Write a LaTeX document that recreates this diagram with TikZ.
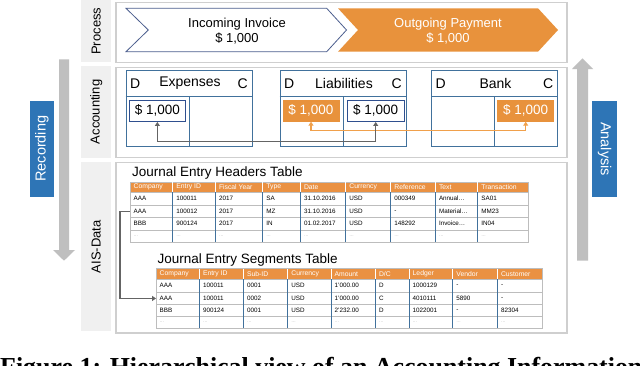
\documentclass[tikz,border=0pt]{standalone}
\usepackage{fontspec}
\setmainfont{Liberation Sans}
\newfontfamily\capfont{Liberation Serif}
\usetikzlibrary{arrows.meta}
\definecolor{orng}{HTML}{E8923C}
\definecolor{thorng}{HTML}{EA9142}
\definecolor{bluebox}{HTML}{2E75B6}
\definecolor{arrgray}{HTML}{BFBFBF}
\definecolor{lblfill}{HTML}{F0F0F0}
\definecolor{frame}{HTML}{CFCFCF}
\definecolor{tacc}{HTML}{41719C}
\definecolor{dbox}{HTML}{2F4F8F}
\definecolor{chev}{HTML}{4C5E8E}
\definecolor{gconnc}{HTML}{646464}
\definecolor{oconnc}{HTML}{F0A04B}
\definecolor{tline}{HTML}{BDBDBD}
\begin{document}
\begin{tikzpicture}[x=1pt,y=-1pt,
  lblbox/.style={fill=lblfill, draw=none, inner sep=0pt},
  lbltext/.style={rotate=90, font=\fontsize{13}{13}\selectfont, inner sep=0pt},
  frm/.style={draw=frame, line width=1.6pt, fill=white, inner sep=0pt, anchor=north west, minimum width=451},
  bluelbl/.style={fill=bluebox, text=white, inner sep=0pt, font=\fontsize{14.5}{14.5}\selectfont},
  bigarrow/.style={fill=arrgray, draw=none},
  chevtext/.style={align=center, font=\fontsize{13}{14.5}\selectfont, inner sep=0pt},
  tacct/.style={draw=tacc, line width=0.9pt, inner sep=0pt, minimum width=126, minimum height=75.7},
  tline/.style={draw=tacc, line width=0.9pt},
  tahd/.style={font=\fontsize{14}{14}\selectfont, inner sep=0pt},
  dollarw/.style={draw=dbox, line width=0.9pt, fill=white, inner sep=0pt, minimum width=56.7, minimum height=21.5, font=\fontsize{13.5}{13.5}\selectfont},
  dollaro/.style={fill=orng, text=white, inner sep=0pt, minimum width=57, minimum height=21.5, font=\fontsize{13.5}{13.5}\selectfont},
  gconn/.style={draw=gconnc, line width=1.4pt, {Triangle[length=4pt,width=5pt]}-{Triangle[length=4pt,width=5pt]}},
  oconn/.style={draw=oconnc, line width=1.2pt, {Triangle[length=4pt,width=5pt]}-{Triangle[length=4pt,width=5pt]}},
  thead/.style={fill=thorng, draw=tline, line width=0.6pt, inner sep=0pt, anchor=north west},
  trow/.style={fill=white, draw=tline, line width=0.6pt, inner sep=0pt, anchor=north west},
  htxt/.style={anchor=west, text=white, inner sep=0pt, font=\fontsize{6.8}{6.8}\selectfont},
  dtxt/.style={anchor=west, inner sep=0pt, font=\fontsize{6.3}{6.3}\selectfont},
  etxt/.style={anchor=west, inner sep=0pt, text=gray!70, font=\fontsize{4.5}{4.5}\selectfont},
  ttitle/.style={anchor=base west, inner sep=0pt, font=\fontsize{13.5}{13.5}\selectfont},
]
\useasboundingbox (0,0) rectangle (640,365);
\clip (0,0) rectangle (640,365);
\fill[white] (0,0) rectangle (640,365);

% ---------- row labels ----------
\node[lblbox, minimum width=30, minimum height=62, anchor=north west] (plbl) at (81,0) {};
\node[lbltext] (ptxt) at (plbl.center) {Process};
\node[lblbox, minimum width=30, minimum height=91.3, anchor=north west] (albl) at (81,66) {};
\node[lbltext] (atxt) at (albl.center) {Accounting};
\node[lblbox, minimum width=30, minimum height=169.5, anchor=north west] (dlbl) at (81,161.7) {};
\node[lbltext] (dtxt) at (dlbl.center) {AIS-Data};

% ---------- frames ----------
\node[frm, minimum height=60.2] (pfr) at (115,1.5) {};
\node[frm, minimum height=90] (afr) at (115,66.7) {};
\node[frm, minimum height=170.6] (dfr) at (115,161.7) {};

% ---------- side arrows ----------
\path[bigarrow] (59,59.3) -- (69,59.3) -- (69,250) -- (75,250) -- (64,260.7) -- (53,250) -- (59,250) -- cycle;
\node[bluelbl, minimum width=24, minimum height=96] (recb) at (42,148.7) {};
\node[bluelbl, rotate=90] (rect) at (recb.center) {Recording};
\path[bigarrow] (577,260.7) -- (588,260.7) -- (588,69) -- (593,69) -- (582.5,58.3) -- (572,69) -- (577,69) -- cycle;
\node[bluelbl, minimum width=25, minimum height=96] (anab) at (604.5,149) {};
\node[bluelbl, rotate=-90] (anat) at (anab.center) {Analysis};

% ---------- process chevrons ----------
\draw[chev, line width=0.8pt, fill=white] (126,8.3) -- (326.7,8.3) -- (346.5,30) -- (326.7,51.7) -- (126,51.7) -- (148.3,30) -- cycle;
\fill[orng] (338,8.3) -- (538,8.3) -- (558,30) -- (538,51.7) -- (338,51.7) -- (358,30) -- cycle;
\node[chevtext] (inv) at (237,31) {Incoming Invoice\\\$ 1,000};
\node[chevtext, text=white] (pay) at (448,31) {Outgoing Payment\\\$ 1,000};

% ---------- T accounts ----------
\foreach \n/\cx/\t in {tE/189/Expenses, tL/343/Liabilities, tB/494.5/Bank}{
  \node[tacct] (\n) at (\cx,108.5) {};
  \draw[tline] (\n.west |- 0,96) -- (\n.east |- 0,96);
  \draw[tline] (\n.center |- 0,96) -- (\n.south);
  \node[tahd, anchor=west] (\n-d) at (\cx-59,83.5) {D};
  \node[tahd, anchor=east] (\n-c) at (\cx+59,83.5) {C};
  \node[tahd] (\n-t) at (\cx+1,83.5) {\t};
}
\node[dollarw] (ed) at (157.4,110.75) {\$ 1,000};
\node[dollaro] (lo) at (311,110.75) {\$ 1,000};
\node[dollarw] (lc) at (375.7,110.75) {\$ 1,000};
\node[dollaro] (bo) at (525.7,110.75) {\$ 1,000};
\coordinate (gl) at (0,141.4);
\coordinate (ol) at (0,130.5);
\draw[oconn] (lo.south) -- (lo.south |- ol) -| (bo.south);
\draw[gconn] (ed.south) -- (ed.south |- gl) -| (lc.south);

% ---------- Journal Entry Headers Table ----------
\node[ttitle] (htitle) at (132,176.7) {Journal Entry Headers Table};
\node[thead, minimum width=397.7, minimum height=10.6] (hrow-0) at (130,181.7) {};
\foreach \r/\ya/\h in {1/192.3/12.7, 2/205/12.3, 3/217.3/12.7, 4/230/12.3}
  \node[trow, minimum width=397.7, minimum height=\h] (hrow-\r) at (130,\ya) {};
\foreach \x in {172.7,215.3,262.7,300.3,345.7,390.7,435.3,477.7}{
  \draw[white, line width=0.8pt] (\x,182.2) -- (\x,191.9);
  \draw[tline, line width=0.6pt] (\x,192.3) -- (\x,242.3);
}
\foreach \x/\t [count=\c] in {130/Company,172.7/Entry ID,215.3/Fiscal Year,262.7/Type,300.3/Date,345.7/Currency,390.7/Reference,435.3/Text,477.7/Transaction}
  \node[htxt] (h-0-\c) at (\x+3.5,187) {\t};
\foreach \x/\t [count=\c] in {130/AAA,172.7/100011,215.3/2017,262.7/SA,300.3/31.10.2016,345.7/USD,390.7/000349,435.3/Annual…,477.7/SA01}
  \node[dtxt] (h-1-\c) at (\x+3.5,198.6) {\t};
\foreach \x/\t [count=\c] in {130/AAA,172.7/100012,215.3/2017,262.7/MZ,300.3/31.10.2016,345.7/USD,390.7/-,435.3/Material…,477.7/MM23}
  \node[dtxt] (h-2-\c) at (\x+3.5,211.2) {\t};
\foreach \x/\t [count=\c] in {130/BBB,172.7/900124,215.3/2017,262.7/IN,300.3/01.02.2017,345.7/USD,390.7/148292,435.3/Invoice…,477.7/IN04}
  \node[dtxt] (h-3-\c) at (\x+3.5,223.7) {\t};
\foreach \x [count=\c] in {130,172.7,215.3,262.7,300.3,345.7,390.7,435.3,477.7}
  \node[etxt] (h-4-\c) at (\x+3.5,236.5) {…};

% ---------- Journal Entry Segments Table ----------
\node[ttitle] (stitle) at (157.3,263.3) {Journal Entry Segments Table};
\node[thead, minimum width=385.7, minimum height=11] (srow-0) at (156,268.3) {};
\foreach \r/\ya/\h in {1/279.3/12.7, 2/292/12.3, 3/304.3/12, 4/316.3/12}
  \node[trow, minimum width=385.7, minimum height=\h] (srow-\r) at (156,\ya) {};
\foreach \x in {199.3,243.3,287.7,331,375.3,409,452.7,497.3}{
  \draw[white, line width=0.8pt] (\x,268.8) -- (\x,278.9);
  \draw[tline, line width=0.6pt] (\x,279.3) -- (\x,328.3);
}
\foreach \x/\t [count=\c] in {156/Company,199.3/Entry ID,243.3/Sub-ID,287.7/Currency,331/Amount,375.3/{D/C},409/Ledger,452.7/Vendor,497.3/Customer}
  \node[htxt] (s-0-\c) at (\x+3.5,273.8) {\t};
\foreach \x/\t [count=\c] in {156/AAA,199.3/100011,243.3/0001,287.7/USD,331/1'000.00,375.3/D,409/1000129,452.7/-,497.3/-}
  \node[dtxt] (s-1-\c) at (\x+3.5,285.7) {\t};
\foreach \x/\t [count=\c] in {156/AAA,199.3/100011,243.3/0002,287.7/USD,331/1'000.00,375.3/C,409/4010111,452.7/5890,497.3/-}
  \node[dtxt] (s-2-\c) at (\x+3.5,298.2) {\t};
\foreach \x/\t [count=\c] in {156/BBB,199.3/900124,243.3/0001,287.7/USD,331/2'232.00,375.3/D,409/1022001,452.7/-,497.3/82304}
  \node[dtxt] (s-3-\c) at (\x+3.5,310.3) {\t};
\foreach \x [count=\c] in {156,199.3,243.3,287.7,331,375.3,409,452.7,497.3}
  \node[etxt] (s-4-\c) at (\x+3.5,322.5) {…};

% connector between tables
\draw[draw=gconnc, line width=1.4pt, -{Triangle[length=4pt,width=5pt]}] (hrow-2.west) -- ++(-10,0) |- (srow-2.west);

% ---------- caption ----------
\node[anchor=base west, inner sep=0pt, font=\capfont\bfseries\fontsize{25.9}{26}\selectfont] (cap) at (0,375.5) {Figure 1: Hierarchical view of an Accounting Information};
\end{tikzpicture}
\end{document}
